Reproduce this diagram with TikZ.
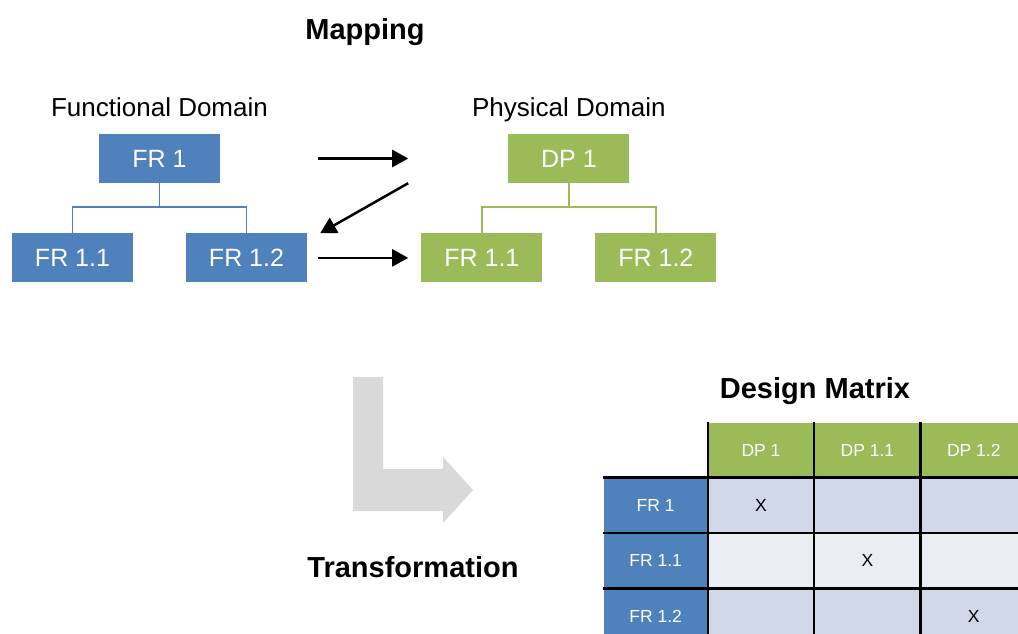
\documentclass[tikz,border=0pt]{standalone}
\usepackage{fontspec}
\setmainfont{Liberation Sans}
\usetikzlibrary{positioning,arrows.meta}
\definecolor{frblue}{HTML}{4F81BD}
\definecolor{dpgreen}{HTML}{9BBB59}
\definecolor{celldark}{HTML}{D0D8E8}
\definecolor{celllight}{HTML}{E9EDF4}
\definecolor{bentgray}{HTML}{D9D9D9}
\newcommand{\DomainGap}{50pt}
\newcommand{\ChildShift}{87pt}
\tikzset{
  frbox/.style={fill=frblue, text=white, minimum width=121pt, minimum height=49pt, inner sep=0pt, font=\fontsize{25}{30}\selectfont},
  dpbox/.style={frbox, fill=dpgreen},
  heading/.style={anchor=base, font=\fontsize{26}{31}\selectfont},
  bigtitle/.style={anchor=base, font=\bfseries\fontsize{29}{35}\selectfont},
  mapline/.style={line width=2.5pt, -{Triangle[length=16pt,width=17pt]}},
  cell/.style={minimum width=106pt, minimum height=55pt, inner sep=0pt, font=\fontsize{17.5}{21}\selectfont},
  hdrcell/.style={cell, fill=dpgreen, text=white},
  rowcell/.style={cell, minimum width=104pt, fill=frblue, text=white},
  gridline/.style={line width=2.5pt, black}
}

\begin{document}
\begin{tikzpicture}[x=1pt, y=-1pt]
	\useasboundingbox (0,0) rectangle (1018,634);
	\clip (0,0) rectangle (1018,634);
	\node[bigtitle] (mapping) at (365,40) {Mapping};
	\node[frbox] (fr1) at (159.5,158.5) {FR 1};
	\node[frbox, below=\DomainGap of fr1, xshift=-\ChildShift] (fr11) {FR 1.1};
	\node[frbox, below=\DomainGap of fr1, xshift=\ChildShift] (fr12) {FR 1.2};
	\node[dpbox, right=288pt of fr1] (dp1) {DP 1};
	\node[dpbox, below=\DomainGap of dp1, xshift=-\ChildShift] (gfr11) {FR 1.1};
	\node[dpbox, below=\DomainGap of dp1, xshift=\ChildShift] (gfr12) {FR 1.2};
	\node[heading] (fdomain) at (fr1.north |- 0,117) {Functional Domain};
	\node[heading] (pdomain) at (dp1.north |- 0,117) {Physical Domain};
	\draw[frblue, line width=1.5pt] (fr1.south) -- ++(0,24) coordinate (frbus) -| (fr11.north);
	\draw[frblue, line width=1.5pt] (frbus) -| (fr12.north);
	\draw[dpgreen, line width=1.5pt] (dp1.south) -- ++(0,24) coordinate (dpbus) -| (gfr11.north);
	\draw[dpgreen, line width=1.5pt] (dpbus) -| (gfr12.north);
	\coordinate[right=98pt of fr1] (m1s);
	\coordinate[left=100pt of dp1] (m1e);
	\coordinate[left=100pt of dp1.south west] (m2s);
	\coordinate[right=13pt of fr12.north east] (m2e);
	\coordinate[right=11pt of fr12] (m3s);
	\coordinate[left=13pt of gfr11] (m3e);
	\draw[mapline] (m1s) -- (m1e);
	\draw[mapline] (m2s) -- (m2e);
	\draw[mapline] (m3s) -- (m3e);
	\fill[bentgray] (353,377) -- (383,377) -- (383,469) -- (443,469) -- (443,457) -- (473,490) -- (443,523) -- (443,511) -- (353,511) -- cycle;
	\node[bigtitle] (transform) at (413,577) {Transformation};
	\node[bigtitle] (dmatrix) at (815,398) {Design Matrix};
	\node[hdrcell] (h1) at (761,450) {DP 1};
	\node[hdrcell, right=0pt of h1] (h2) {DP 1.1};
	\node[hdrcell, right=0pt of h2] (h3) {DP 1.2};
	\node[cell, fill=celldark, below=0pt of h1] (c11) {X};
	\node[cell, fill=celldark, below=0pt of h2] (c12) {};
	\node[cell, fill=celldark, below=0pt of h3] (c13) {};
	\node[cell, fill=celllight, below=0pt of c11] (c21) {};
	\node[cell, fill=celllight, below=0pt of c12] (c22) {X};
	\node[cell, fill=celllight, below=0pt of c13] (c23) {};
	\node[cell, fill=celldark, below=0pt of c21] (c31) {};
	\node[cell, fill=celldark, below=0pt of c22] (c32) {};
	\node[cell, fill=celldark, below=0pt of c23] (c33) {X};
	\node[rowcell, left=0pt of c11] (r1) {FR 1};
	\node[rowcell, left=0pt of c21] (r2) {FR 1.1};
	\node[rowcell, left=0pt of c31] (r3) {FR 1.2};
	\draw[gridline] (h1.north west) -- (c31.south west);
	\draw[gridline] (h2.north west) -- (c32.south west);
	\draw[gridline] (h3.north west) -- (c33.south west);
	\draw[gridline] (r1.north west) -- (c13.north east);
	\draw[gridline] (r2.north west) -- (c23.north east);
	\draw[gridline] (r3.north west) -- (c33.north east);
\end{tikzpicture}
\end{document}
